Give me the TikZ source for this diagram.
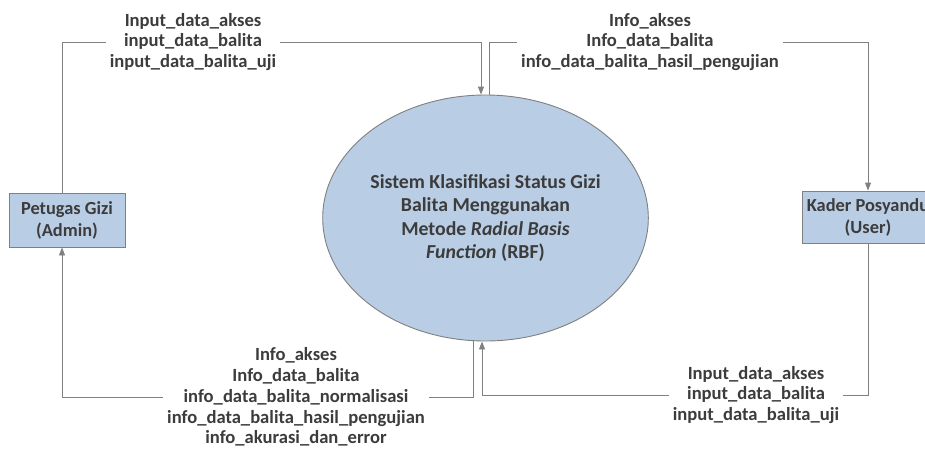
\documentclass[tikz,border=0pt]{standalone}
\usepackage{fontspec}
\setmainfont{Carlito}
\usetikzlibrary{shapes.geometric,arrows.meta}
\definecolor{txt}{HTML}{3C3C3C}
\definecolor{ln}{HTML}{808080}
\definecolor{fillb}{HTML}{B9CDE5}
\begin{document}
\begin{tikzpicture}[x=1pt,y=-1pt,
  entity/.style={draw=ln, line width=0.9pt, fill=fillb, text=txt, align=center,
    font=\fontsize{18.4}{22}\selectfont\bfseries, inner sep=0pt},
  proc/.style={ellipse, draw=ln, line width=0.9pt, fill=fillb, text=txt, align=center,
    font=\fontsize{19.8}{23.3}\selectfont\bfseries, inner sep=0pt,
    minimum width=273pt, minimum height=246pt},
  flow/.style={draw=ln, line width=0.9pt, -{Triangle[length=8pt,width=6pt]}},
  lbl/.style={text=txt, align=center, font=\fontsize{18.6}{20.8}\selectfont\bfseries, inner sep=4pt}]
\clip (0,0) rectangle (925,448);
\fill[white] (0,0) rectangle (925,448);

\node[entity, minimum width=116pt, minimum height=54pt] (L) at (67,220) {Petugas Gizi\\(Admin)};
\node[entity, minimum width=132pt, minimum height=52pt] (R) at (868,217) {Kader Posyandu\\(User)};
\node[proc] (P) at (485.5,218) {Sistem Klasifikasi Status Gizi\\Balita Menggunakan\\Metode \textit{Radial Basis}\\\textit{Function} (RBF)};

\node[lbl] (la) at (193,42) {Input\_data\_akses\\input\_data\_balita\\input\_data\_balita\_uji};
\node[lbl] (lb) at (650,42) {Info\_akses\\Info\_data\_balita\\info\_data\_balita\_hasil\_pengujian};
\node[lbl] (lc) at (296,397) {Info\_akses\\Info\_data\_balita\\info\_data\_balita\_normalisasi\\info\_data\_balita\_hasil\_pengujian\\info\_akurasi\_dan\_error};
\node[lbl] (ld) at (756,395) {Input\_data\_akses\\input\_data\_balita\\input\_data\_balita\_uji};

\draw[flow] ([xshift=-5pt]L.north) |- (la) -| ([xshift=-4.5pt]P.north);
\draw[flow] ([xshift=3.5pt]P.north) |- (lb) -| (R.north);
\draw[flow] ([xshift=-12.5pt]P.south) |- (lc) -| ([xshift=-5pt]L.south);
\draw[flow] (R.south) |- (ld) -| ([xshift=-3.5pt]P.south);
\end{tikzpicture}
\end{document}
